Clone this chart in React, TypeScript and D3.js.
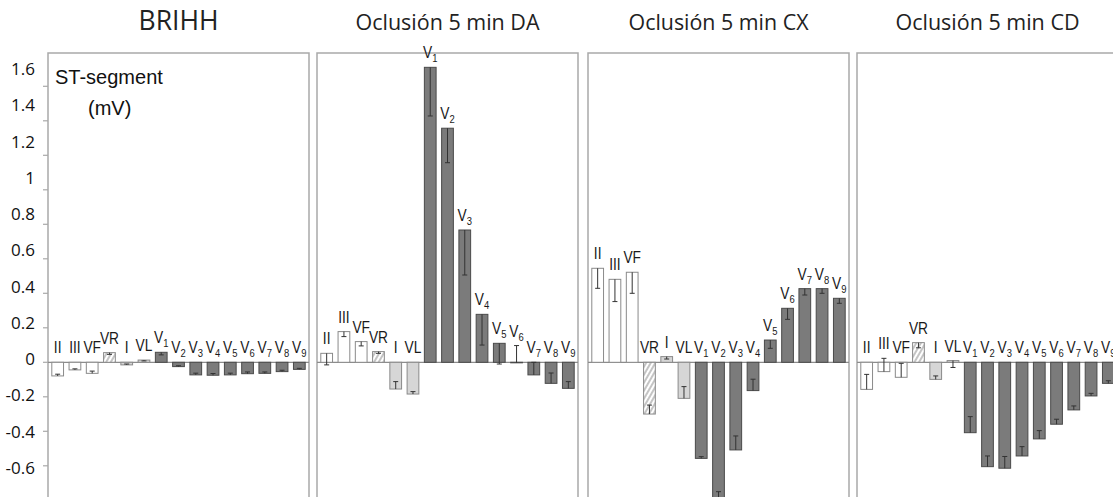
import React from 'react';
import * as d3 from 'd3';

// ECG leads, in the order they are plotted
const leads = ['II', 'III', 'VF', 'VR', 'I', 'VL', 'V1', 'V2', 'V3', 'V4', 'V5', 'V6', 'V7', 'V8', 'V9'];

const panelTitles = ['BRIHH', 'Oclusión 5 min DA', 'Oclusión 5 min CX', 'Oclusión 5 min CD'];

// ST-segment (mV) per lead, and the error bar length
const brihhST = [-0.079, -0.044, -0.064, 0.056, -0.015, 0.013, 0.058, -0.025, -0.073, -0.075, -0.073, -0.066, -0.064, -0.054, -0.041];
const brihhErr = [0.01, 0.006, 0.013, 0.01, 0.005, 0.005, 0.015, 0.005, 0.01, 0.01, 0.01, 0.01, 0.008, 0.008, 0.006];

const daST = [0.052, 0.178, 0.12, 0.062, -0.155, -0.184, 1.71, 1.357, 0.767, 0.278, 0.11, -0.003, -0.073, -0.122, -0.151];
const daErr = [0.067, 0.029, 0.025, 0.01, 0.043, 0.014, 0.282, 0.2, 0.261, 0.178, 0.12, 0.1, 0.073, 0.06, 0.039];

const cxST = [0.545, 0.481, 0.522, -0.3, 0.033, -0.209, -0.557, -0.81, -0.508, -0.164, 0.129, 0.313, 0.427, 0.427, 0.371];
const cxErr = [0.116, 0.129, 0.122, 0.052, 0.014, 0.068, 0.01, 0.06, 0.081, 0.066, 0.048, 0.064, 0.037, 0.027, 0.029];

const cdST = [-0.157, -0.054, -0.087, 0.114, -0.099, 0.01, -0.408, -0.605, -0.614, -0.543, -0.444, -0.359, -0.276, -0.195, -0.122];
const cdErr = [0.087, 0.077, 0.081, 0.03, 0.02, 0.04, 0.093, 0.062, 0.068, 0.054, 0.048, 0.029, 0.023, 0.015, 0.015];

const yTicks = [-0.6, -0.4, -0.2, 0, 0.2, 0.4, 0.6, 0.8, 1, 1.2, 1.4, 1.6];
const yTickLabels = ['-0.6', '-0.4', '-0.2', '0', '0.2', '0.4', '0.6', '0.8', '1', '1.2', '1.4', '1.6'];

const W = 1113;
const H = 497;
const panelLefts = [48, 317, 588, 857];
const panelW = 261;
const panelTop = 53;

const series = [
  { values: brihhST, errs: brihhErr },
  { values: daST, errs: daErr },
  { values: cxST, errs: cxErr },
  { values: cdST, errs: cdErr },
];

const y = d3.scaleLinear().domain([-0.8, 1.8]).range([500.3, 51.8]);
// the tick labels in the figure sit on their own, slightly stretched, column
const yLabel = d3.scaleLinear().domain([-0.6, 1.6]).range([474, 75]);

const titleWidths = [80, 184, 180, 184];

const limbWhite = ['II', 'III', 'VF'];
const limbLight = ['I', 'VL'];

function fillFor(lead: string) {
  if (lead === 'VR') return 'url(#hatch)';
  if (limbLight.includes(lead)) return '#d6d6d6';
  if (limbWhite.includes(lead)) return '#ffffff';
  return '#7b7b7b';
}

function strokeFor(lead: string) {
  if (lead === 'VR' || limbLight.includes(lead) || limbWhite.includes(lead)) return '#8a8a8a';
  return '#4a4a4a';
}

function LeadLabel({ lead, x, yy }: { lead: string; x: number; yy: number }) {
  const m = lead.match(/^V(\d)$/);
  return (
    <text
      transform={`translate(${x},${yy}) scale(0.86,1)`}
      textAnchor="middle"
      fontFamily="'Liberation Sans', Arial, sans-serif"
      fontSize={16}
      fill="#1a1a1a"
    >
      {m ? (
        <>
          <tspan>V</tspan>
          <tspan fontSize={11} dy={4}>{m[1]}</tspan>
        </>
      ) : (
        lead
      )}
    </text>
  );
}

function Panel({ idx }: { idx: number }) {
  const left = panelLefts[idx];
  const { values, errs } = series[idx];
  const x = d3
    .scaleBand<string>()
    .domain(leads)
    .range([left, left + panelW])
    .paddingInner(0.32)
    .paddingOuter(0.22);
  const y0 = y(0);
  const bw = x.bandwidth();

  return (
    <g>
      <text
        x={left + panelW / 2}
        y={30}
        textAnchor="middle"
        fontFamily="'Open Sans', sans-serif"
        fontSize={idx === 0 ? 27 : 22}
        textLength={titleWidths[idx]}
        lengthAdjust="spacingAndGlyphs"
        fill="#222"
      >
        {panelTitles[idx]}
      </text>
      <path
        d={`M${left},${H + 10}V${panelTop}H${left + panelW}V${H + 10}`}
        fill="none"
        stroke="#a9a9a9"
        strokeWidth={1.5}
      />
      <line x1={left} x2={left + panelW} y1={y0} y2={y0} stroke="#8c8c8c" strokeWidth={1.2} />
      {leads.map((lead, i) => {
        const v = values[i];
        const sign = v < 0 ? -1 : 1;
        const cap = v - sign * errs[i];
        const bx = x(lead) as number;
        const cx = bx + bw / 2;
        const top = Math.min(y(v), y0);
        const labelY = Math.min(y0, y(v), y(cap)) - 9;
        return (
          <g key={lead}>
            <rect
              x={bx}
              y={top}
              width={bw}
              height={Math.max(Math.abs(y(v) - y0), 0.5)}
              fill={fillFor(lead)}
              stroke={strokeFor(lead)}
              strokeWidth={1}
            />
            <line x1={cx} x2={cx} y1={y(v)} y2={y(cap)} stroke="#333" strokeWidth={1} />
            <line x1={cx - 2.5} x2={cx + 2.5} y1={y(cap)} y2={y(cap)} stroke="#333" strokeWidth={1} />
            <LeadLabel lead={lead} x={cx} yy={labelY} />
          </g>
        );
      })}
    </g>
  );
}

export default function App() {
  const axisX = panelLefts[0];
  return (
    <svg
      width={W}
      height={H}
      style={{ position: 'absolute', left: 0, top: 0, background: '#fff' }}
    >
      <defs>
        <pattern id="hatch" patternUnits="userSpaceOnUse" width={4} height={4} patternTransform="rotate(30)">
          <rect width={4} height={4} fill="#fff" />
          <line x1={1} y1={0} x2={1} y2={4} stroke="#8a8a8a" strokeWidth={1} />
        </pattern>
      </defs>
      <rect width={W} height={H} fill="#fff" />
      {panelTitles.map((t, i) => (
        <Panel key={t} idx={i} />
      ))}
      {yTicks.map((t) => (
        <line key={`t${t}`} x1={axisX - 5} x2={axisX} y1={y(t)} y2={y(t)} stroke="#a9a9a9" strokeWidth={1.2} />
      ))}
      {yTicks.map((t, i) => (
        <text
          key={`l${t}`}
          x={35}
          y={yLabel(t)}
          textAnchor="end"
          fontFamily="'Open Sans', sans-serif"
          fontSize={17}
          fill="#111"
        >
          {yTickLabels[i]}
        </text>
      ))}
      <text x={55} y={84} fontFamily="'Liberation Sans', Arial, sans-serif" fontSize={20} fill="#111">
        ST-segment
      </text>
      <text x={88} y={115} fontFamily="'Liberation Sans', Arial, sans-serif" fontSize={20} fill="#111">
        (mV)
      </text>
    </svg>
  );
}
